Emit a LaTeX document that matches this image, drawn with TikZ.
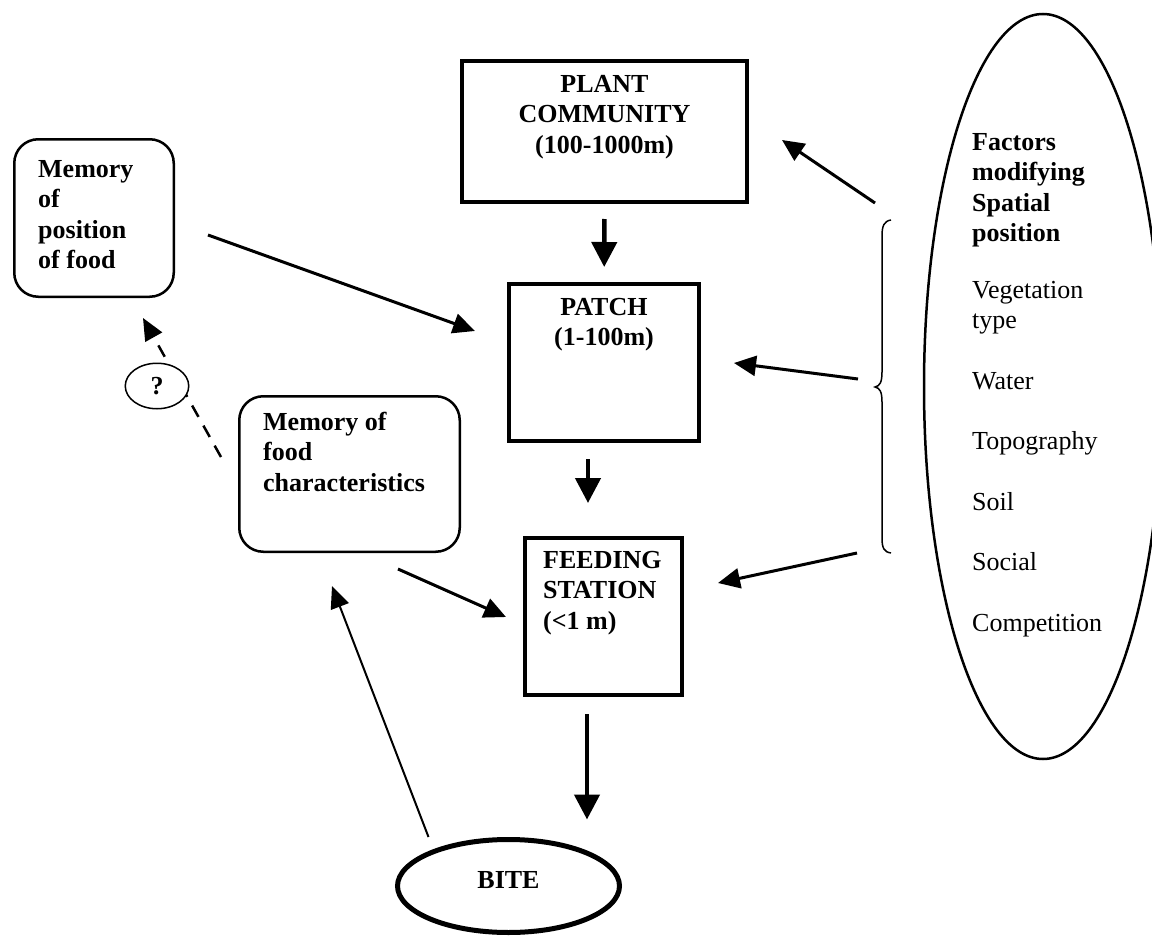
\documentclass[tikz,border=0pt]{standalone}
\usepackage{fontspec}
\setmainfont{Liberation Serif}
\usetikzlibrary{arrows.meta,shapes.geometric,calc}
\begin{document}
\begin{tikzpicture}[x=1pt,y=-1pt,
  txt/.style={inner sep=0pt, font=\fontsize{26}{30.5}\selectfont},
  btxt/.style={inner sep=0pt, font=\fontsize{26}{30.5}\selectfont\bfseries},
  bigbox/.style={draw, line width=4pt, rectangle, inner sep=0pt},
  membox/.style={draw, line width=2.5pt, rectangle, rounded corners=24pt, inner sep=0pt},
  thickarr/.style={line width=4.5pt, -{Triangle[length=25pt,width=25pt]}},
  arr/.style={line width=3pt, -{Triangle[length=22pt,width=20pt]}},
  thinarr/.style={line width=2pt, -{Triangle[length=22pt,width=19pt]}},
  dasharr/.style={line width=2.5pt, dash pattern=on 13pt off 10pt, -{Triangle[length=22pt,width=19pt]}},
]
\useasboundingbox (0,0) rectangle (1152,950);

% boxes
\node[bigbox, minimum width=285pt, minimum height=141pt] (plant) at (604.5,131.5) {};
\node[bigbox, minimum width=190pt, minimum height=157pt] (patch) at (604,362.5) {};
\node[bigbox, minimum width=157pt, minimum height=157pt] (feed) at (603.5,616.5) {};
\node[membox, minimum width=220.5pt, minimum height=155.5pt] (memchar) at (349.5,474) {};
\node[membox, minimum width=159.5pt, minimum height=157.5pt] (mempos) at (94,218) {};
\node[draw, ellipse, line width=5pt, inner sep=0pt, minimum width=222pt, minimum height=93pt] (bite) at (508.5,886) {};
\node[draw, ellipse, line width=2.5pt, inner sep=0pt, minimum width=238pt, minimum height=745pt] (factors) at (1043,386.5) {};

% texts
\node[btxt, anchor=north, align=center] (plantT) at (604.5,70.6) {\strut PLANT\\COMMUNITY\\(100-1000m)};
\node[btxt, anchor=north, align=center] (patchT) at (604,293.6) {\strut PATCH\\(1-100m)};
\node[btxt, anchor=north west, align=left] (feedT) at (543,546.6) {\strut FEEDING\\STATION\\(<1 m)};
\node[btxt, anchor=north west, align=left] (memcharT) at (263,408.6) {\strut Memory of\\food\\characteristics};
\node[btxt, anchor=north west, align=left] (memposT) at (38,155.6) {\strut Memory\\of\\position\\of food};
\node[btxt, anchor=base] (biteT) at (508.5,888) {BITE};
\node[btxt, anchor=north west, align=left] (factH) at (972,128.6) {\strut Factors\\modifying\\Spatial\\position};
\node[txt, anchor=north west, align=left] (factL) at (972,276.6) {\strut Vegetation\\type\\[30pt]Water\\[30pt]Topography\\[30pt]Soil\\[30pt]Social\\[30pt]Competition};

% brace
\draw[line width=1.5pt] (891,220) .. controls (884,221) and (882,226) .. (882,236) -- (882,372)
  .. controls (882,382) and (880,386) .. (875,387) .. controls (880,388) and (882,392) .. (882,402)
  -- (882,538) .. controls (882,548) and (884,552) .. (891,553);
\coordinate (bT) at (875,203);
\coordinate (bM) at (858,379);
\coordinate (bB) at (857,553);

% vertical flow
\draw[thickarr, shorten <=15pt, shorten >=15pt] (plant) -- (patch);
\draw[thickarr] ($(patch.south)+(-16,16)$) -- ($(feed.north)+(-15.5,-33)$);
\draw[thickarr] ($(feed.south)+(-16.5,17)$) -- ($(bite.north)+(78.5,-17.5)$);

% side arrows
\draw[arr] ($(mempos.east)+(33,17)$) -- ($(patch.west)+(-32,-31.5)$);
\draw[arr] ($(memchar.south)+(48.5,16)$) -- ($(feed.west)+(-17,0.5)$);
\draw[thinarr] ($(bite.center)+(-80,-49)$) -- ($(memchar.south)+(-17.5,33)$);
\draw[arr] (bT) -- ($(plant.east)+(33,8.5)$);
\draw[arr] (bM) -- ($(patch.east)+(33,0.5)$);
\draw[arr] (bB) -- ($(feed.east)+(34,-33.5)$);

% dashed arrow with question mark
\draw[dasharr] ($(memchar.west)+(-17,-17)$) -- ($(mempos.south)+(49,20)$);
\node[draw, ellipse, fill=white, line width=1.5pt, inner sep=0pt, minimum width=63.5pt, minimum height=45.5pt, font=\fontsize{26}{30.5}\selectfont\bfseries] (q) at (157,386) {?};
\end{tikzpicture}
\end{document}
